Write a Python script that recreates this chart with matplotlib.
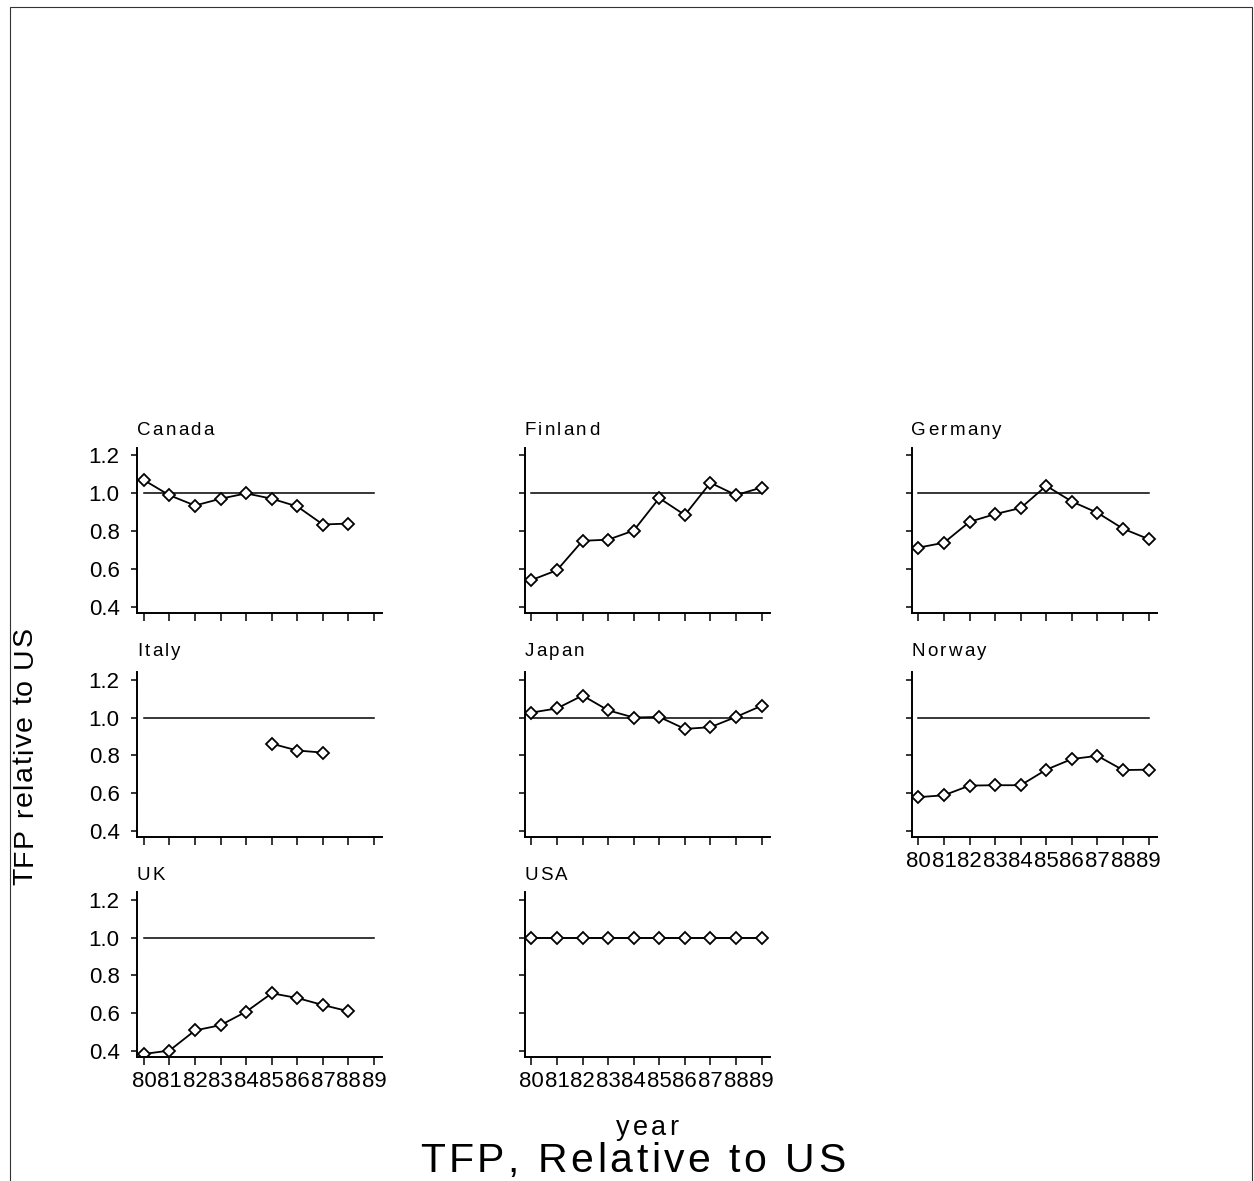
import matplotlib
matplotlib.use("Agg")
import matplotlib.pyplot as plt
from matplotlib.patches import Rectangle
from matplotlib.font_manager import FontProperties, findfont, get_font

plt.rcParams['font.family'] = ['Liberation Sans', 'DejaVu Sans']

W, H = 1254, 1181  # figure size in pixels

years = list(range(80, 90))
year_labels = [str(y) for y in years]

# TFP relative to US (None = no data)
canada  = [1.068, 0.988, 0.934, 0.970, 0.998, 0.970, 0.929, 0.834, 0.839, None]
finland = [0.541, 0.593, 0.748, 0.754, 0.802, 0.973, 0.884, 1.054, 0.989, 1.029]
germany = [0.712, 0.738, 0.848, 0.889, 0.921, 1.038, 0.955, 0.896, 0.812, 0.757]
italy   = [None, None, None, None, None, 0.862, 0.826, 0.815, None, None]
japan   = [1.026, 1.048, 1.116, 1.038, 1.000, 1.003, 0.940, 0.949, 1.003, 1.062]
norway  = [0.580, 0.590, 0.641, 0.643, 0.643, 0.725, 0.781, 0.798, 0.723, 0.725]
uk      = [0.386, 0.404, 0.510, 0.538, 0.609, 0.706, 0.681, 0.644, 0.611, None]
usa     = [1.0, 1.0, 1.0, 1.0, 1.0, 1.0, 1.0, 1.0, 1.0, 1.0]

countries = ['Canada', 'Finland', 'Germany', 'Italy', 'Japan', 'Norway', 'UK', 'USA']
series = [canada, finland, germany, italy, japan, norway, uk, usa]
yticks = [0.4, 0.6, 0.8, 1.0, 1.2]
yticklabels = ['0.4', '0.6', '0.8', '1.0', '1.2']

fig = plt.figure(figsize=(W / 100, H / 100), dpi=100)

_font = get_font(findfont(FontProperties(family='Liberation Sans')))


def advances(s, size):
    # horizontal advance of each character, in pixels
    _font.set_size(size, 100)
    return [_font.load_char(ord(ch)).linearHoriAdvance / 65536 for ch in s]


def spaced_text(x, y, s, size, sp, ha='left', vertical=False):
    # text with extra letter spacing; x, y in pixels from top-left, y = baseline
    adv = advances(s, size)
    total = sum(adv) + sp * (len(s) - 1)
    pos = -total / 2 if ha == 'center' else 0.0
    for ch, a in zip(s, adv):
        if vertical:
            px, py, rot = x, y - pos, 90
        else:
            px, py, rot = x + pos, y, 0
        fig.text(px / W, 1 - py / H, ch, fontsize=size, rotation=rot,
                 rotation_mode='anchor', ha='left', va='baseline')
        pos += a + sp


# frame around the page
fig.patches.append(Rectangle((10 / W, -0.01), 1242 / W, (H - 7) / H + 0.01,
                             transform=fig.transFigure, fill=False,
                             edgecolor='#333333', linewidth=0.8))

lefts = [137, 524.5, 911.5]
bottoms = [612.5, 837, 1057]   # pixel y of the x axis in each row
title_base = [435, 656, 880]
ax_w, ax_h = 245, 165

for i, (name, vals) in enumerate(zip(countries, series)):
    r, c = divmod(i, 3)
    left, bottom = lefts[c], bottoms[r]
    ax = fig.add_axes([left / W, 1 - bottom / H, ax_w / W, ax_h / H])
    ax.set_xlim(79.73, 89.31)
    ax.set_ylim(0.37, 1.24)
    for s in ['top', 'right']:
        ax.spines[s].set_visible(False)
    for s in ['left', 'bottom']:
        ax.spines[s].set_linewidth(1.4)

    ax.plot([years[0], years[-1]], [1.0, 1.0], color='black', linewidth=1.1)
    xs = [y for y, v in zip(years, vals) if v is not None]
    ys = [v for v in vals if v is not None]
    ax.plot(xs, ys, color='black', linewidth=1.3, marker='D', markersize=6.3,
            markerfacecolor='white', markeredgecolor='black', markeredgewidth=1.3)

    ax.set_xticks(years)
    ax.set_yticks(yticks)
    ax.tick_params(axis='x', direction='out', length=6, width=1.1, pad=4, labelsize=16)
    ax.tick_params(axis='y', direction='out', length=4.5, width=1.1, pad=8, labelsize=16)
    # x labels only on the lowest panel of each column
    if i in (5, 6, 7):
        ax.set_xticklabels(year_labels)
    else:
        ax.set_xticklabels([])
    if c == 0:
        ax.set_yticklabels(yticklabels)
    else:
        ax.set_yticklabels([])

    spaced_text(left, title_base[r], name, 13.5, 2.2)

spaced_text(32, 756, 'TFP relative to US', 20.5, 1.5, ha='center', vertical=True)
spaced_text(647, 1135, 'year', 19.5, 3.0, ha='center')
spaced_text(632.5, 1172, 'TFP, Relative to US', 29.5, 3.5, ha='center')

fig.savefig('out.png', dpi=100)
